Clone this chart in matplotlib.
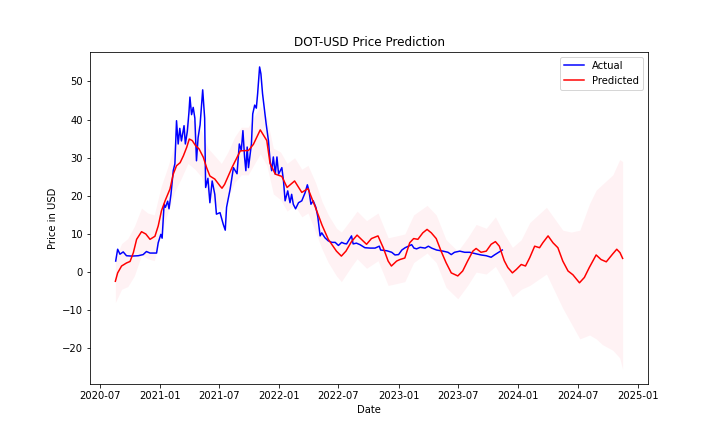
import matplotlib
matplotlib.use("Agg")
import matplotlib.pyplot as plt
import pandas as pd

# actual close price
actual_dates = [
    "2020-08-19", "2020-08-25", "2020-09-01", "2020-09-11", "2020-09-21", "2020-10-07",
    "2020-10-27", "2020-11-11", "2020-11-21", "2020-12-02", "2020-12-22", "2020-12-27",
    "2021-01-04", "2021-01-08", "2021-01-14", "2021-01-18", "2021-01-25", "2021-01-29",
    "2021-02-04", "2021-02-11", "2021-02-16", "2021-02-21", "2021-02-26", "2021-03-03",
    "2021-03-08", "2021-03-16", "2021-03-20", "2021-03-26", "2021-03-31", "2021-04-03",
    "2021-04-08", "2021-04-13", "2021-04-18", "2021-04-23", "2021-04-28", "2021-05-04",
    "2021-05-12", "2021-05-18", "2021-05-21", "2021-05-28", "2021-06-03", "2021-06-10",
    "2021-06-18", "2021-06-23", "2021-07-04", "2021-07-14", "2021-07-20", "2021-07-24",
    "2021-08-04", "2021-08-14", "2021-08-25", "2021-09-01", "2021-09-07", "2021-09-12",
    "2021-09-17", "2021-09-21", "2021-09-25", "2021-09-29", "2021-10-08", "2021-10-12",
    "2021-10-18", "2021-10-23", "2021-10-27", "2021-11-02", "2021-11-06", "2021-11-11",
    "2021-11-17", "2021-11-22", "2021-11-29", "2021-12-04", "2021-12-09", "2021-12-14",
    "2021-12-20", "2021-12-25", "2021-12-30", "2022-01-09", "2022-01-14", "2022-01-19",
    "2022-01-27", "2022-02-03", "2022-02-08", "2022-02-13", "2022-02-20", "2022-03-01",
    "2022-03-11", "2022-03-21", "2022-03-28", "2022-04-02", "2022-04-08", "2022-04-15",
    "2022-04-23", "2022-04-29", "2022-05-06", "2022-05-11", "2022-05-21", "2022-05-31",
    "2022-06-11", "2022-06-21", "2022-07-01", "2022-07-11", "2022-07-19", "2022-07-26",
    "2022-08-10", "2022-08-15", "2022-08-25", "2022-09-05", "2022-09-20", "2022-10-06",
    "2022-10-21", "2022-11-03", "2022-11-07", "2022-11-26", "2022-12-11", "2022-12-21",
    "2023-01-01", "2023-01-11", "2023-01-21", "2023-01-31", "2023-02-10", "2023-02-17",
    "2023-02-25", "2023-03-08", "2023-03-23", "2023-04-02", "2023-04-12", "2023-04-27",
    "2023-05-17", "2023-06-01", "2023-06-11", "2023-06-21", "2023-07-07", "2023-07-22",
    "2023-08-06", "2023-08-26", "2023-09-10", "2023-09-26", "2023-10-11", "2023-10-21",
    "2023-11-03", "2023-11-14",
]
actual_vals = [
    2.9, 6.0, 4.7, 5.3, 4.3, 4.2,
    4.3, 4.6, 5.4, 5.0, 5.0, 7.7,
    9.9, 8.9, 17.8, 17.0, 18.6, 16.6,
    20.4, 26.6, 28.4, 39.7, 33.6, 37.7,
    34.4, 38.4, 33.6, 36.9, 41.9, 45.9,
    41.3, 43.2, 40.4, 29.2, 35.3, 38.6,
    47.8, 40.4, 22.2, 24.6, 18.2, 23.9,
    20.4, 15.2, 15.6, 12.5, 11.0, 17.0,
    21.8, 27.4, 25.8, 33.6, 31.9, 37.1,
    30.2, 26.6, 32.8, 27.4, 33.6, 41.5,
    43.8, 43.0, 46.8, 53.8, 52.0, 46.8,
    42.5, 38.9, 34.5, 29.2, 26.6, 30.2,
    25.7, 30.2, 25.7, 27.4, 24.0, 18.7,
    21.3, 18.2, 20.4, 17.8, 16.6, 18.2,
    18.7, 20.8, 22.9, 21.3, 17.8, 18.7,
    17.0, 14.5, 9.5, 10.3, 9.0, 8.2,
    7.8, 7.8, 7.0, 7.8, 7.5, 7.4,
    9.5, 7.4, 7.6, 7.2, 6.4, 6.3,
    6.3, 6.8, 5.8, 5.6, 5.2, 4.5,
    4.6, 5.8, 6.4, 6.8, 7.2, 6.3,
    6.1, 6.5, 6.3, 6.8, 6.3, 5.8,
    5.5, 5.2, 4.6, 5.2, 5.5, 5.2,
    5.2, 4.8, 4.5, 4.3, 3.9, 4.5,
    5.2, 5.8,
]

# model fit / forecast
pred_dates = [
    "2020-08-18", "2020-08-25", "2020-09-06", "2020-09-21", "2020-10-02", "2020-10-12",
    "2020-10-22", "2020-11-06", "2020-11-19", "2020-12-02", "2020-12-17", "2020-12-27",
    "2021-01-06", "2021-01-17", "2021-02-01", "2021-02-11", "2021-02-21", "2021-03-04",
    "2021-03-14", "2021-03-24", "2021-04-01", "2021-04-10", "2021-04-20", "2021-05-01",
    "2021-05-14", "2021-05-24", "2021-06-03", "2021-06-18", "2021-07-04", "2021-07-10",
    "2021-07-18", "2021-08-10", "2021-09-04", "2021-09-29", "2021-10-14", "2021-11-04",
    "2021-11-24", "2021-12-04", "2021-12-20", "2022-01-09", "2022-01-25", "2022-02-17",
    "2022-03-11", "2022-03-30", "2022-04-22", "2022-05-12", "2022-05-31", "2022-06-25",
    "2022-07-10", "2022-07-24", "2022-08-10", "2022-08-27", "2022-09-14", "2022-09-25",
    "2022-10-10", "2022-10-30", "2022-11-15", "2022-11-30", "2022-12-10", "2022-12-26",
    "2023-01-05", "2023-01-20", "2023-02-04", "2023-02-16", "2023-03-01", "2023-03-16",
    "2023-03-29", "2023-04-11", "2023-04-26", "2023-05-11", "2023-05-26", "2023-06-11",
    "2023-07-01", "2023-07-16", "2023-07-31", "2023-08-16", "2023-08-26", "2023-09-10",
    "2023-09-26", "2023-10-11", "2023-10-24", "2023-11-05", "2023-11-20", "2023-12-01",
    "2023-12-15", "2023-12-27", "2024-01-11", "2024-01-24", "2024-02-06", "2024-02-21",
    "2024-03-07", "2024-03-17", "2024-04-02", "2024-04-17", "2024-05-02", "2024-05-17",
    "2024-06-02", "2024-06-17", "2024-07-07", "2024-07-22", "2024-08-06", "2024-08-27",
    "2024-09-11", "2024-09-27", "2024-10-17", "2024-10-29", "2024-11-08", "2024-11-16",
]
pred_vals = [
    -2.4, -0.2, 1.6, 2.4, 2.8, 5.1,
    8.6, 10.6, 10.0, 8.6, 9.4, 12.1,
    16.1, 18.7, 21.8, 25.7, 27.9, 28.7,
    30.5, 32.7, 34.9, 34.5, 33.2, 32.3,
    30.1, 27.4, 25.2, 24.4, 22.6, 22.0,
    23.0, 27.5, 31.8, 31.9, 33.5, 37.3,
    34.5, 28.5, 25.7, 25.1, 22.2, 23.9,
    20.9, 21.9, 16.9, 12.3, 8.6, 5.5,
    4.2, 5.5, 8.0, 9.7, 8.2, 7.3,
    8.8, 9.5, 6.4, 2.9, 1.6, 2.9,
    3.3, 3.7, 7.7, 8.8, 8.6, 10.3,
    11.2, 10.3, 8.8, 5.5, 2.5, -0.2,
    -1.0, 0.3, 2.9, 5.5, 6.2, 5.2,
    5.5, 7.3, 8.0, 6.8, 3.0, 1.2,
    -0.2, 0.7, 2.0, 1.6, 3.8, 6.8,
    6.4, 7.7, 9.5, 7.7, 6.4, 2.9,
    0.3, -0.7, -2.8, -1.4, 1.2, 4.5,
    3.3, 2.7, 4.8, 6.0, 5.1, 3.6,
]

# uncertainty interval
band_dates = [
    "2020-08-18", "2020-09-06", "2020-09-25", "2020-10-15", "2020-11-06", "2020-11-25",
    "2020-12-15", "2021-01-05", "2021-01-25", "2021-02-15", "2021-03-07", "2021-03-28",
    "2021-04-18", "2021-05-08", "2021-05-28", "2021-06-18", "2021-07-08", "2021-07-28",
    "2021-08-18", "2021-09-07", "2021-09-28", "2021-10-18", "2021-11-04", "2021-11-24",
    "2021-12-14", "2022-01-05", "2022-01-25", "2022-02-17", "2022-03-11", "2022-03-30",
    "2022-04-22", "2022-05-12", "2022-05-31", "2022-06-25", "2022-07-10", "2022-08-10",
    "2022-08-27", "2022-09-25", "2022-10-30", "2022-11-30", "2022-12-26", "2023-01-20",
    "2023-02-16", "2023-03-29", "2023-04-26", "2023-05-26", "2023-07-01", "2023-07-31",
    "2023-08-26", "2023-09-26", "2023-10-24", "2023-11-20", "2023-12-15", "2024-01-11",
    "2024-02-06", "2024-03-28", "2024-05-17", "2024-06-12", "2024-07-08", "2024-08-07",
    "2024-08-27", "2024-09-15", "2024-10-17", "2024-11-07", "2024-11-16",
]
band_lower = [
    -8.0, -4.5, -3.8, -1.0, 4.5, 3.5,
    3.0, 10.0, 15.5, 21.0, 24.5, 28.5,
    27.0, 25.0, 20.5, 18.0, 16.0, 19.5,
    23.5, 25.5, 25.5, 28.5, 31.0, 28.0,
    20.5, 19.0, 16.0, 17.5, 14.5, 15.5,
    10.5, 6.0, 2.5, -1.0, -2.5, 1.5,
    3.5, 1.0, 3.0, -3.5, -3.0, -2.5,
    2.5, 5.0, 2.5, -4.0, -7.0, -3.5,
    0.0, -0.5, 1.5, -2.5, -6.5, -4.5,
    -3.5, -0.5, -9.5, -13.5, -17.5, -16.5,
    -17.5, -19.0, -20.5, -22.5, -25.5,
]
band_upper = [
    3.5, 7.5, 8.8, 12.0, 16.8, 15.5,
    15.0, 22.5, 27.5, 33.5, 36.5, 40.5,
    39.5, 37.0, 32.5, 30.5, 28.5, 31.5,
    35.5, 38.0, 38.0, 41.0, 43.5, 40.5,
    32.5, 31.5, 28.5, 30.0, 27.0, 28.0,
    23.5, 18.5, 15.0, 11.5, 10.5, 14.0,
    16.0, 13.5, 15.5, 9.0, 9.5, 10.0,
    15.0, 17.5, 15.0, 8.5, 5.5, 9.0,
    12.5, 11.5, 14.5, 10.0, 6.5, 8.5,
    13.0, 17.0, 11.0, 10.5, 11.0, 18.0,
    21.5, 23.0, 25.5, 29.5, 29.0,
]

actual_x = pd.to_datetime(actual_dates)
pred_x = pd.to_datetime(pred_dates)
band_x = pd.to_datetime(band_dates)

fig, ax = plt.subplots(figsize=(10, 6), dpi=72)
ax.plot(actual_x, actual_vals, color="blue", label="Actual")
ax.plot(pred_x, pred_vals, color="red", label="Predicted")
ax.fill_between(band_x, band_lower, band_upper, color="pink", alpha=0.2, linewidth=0)

ax.set_title("DOT-USD Price Prediction")
ax.set_xlabel("Date")
ax.set_ylabel("Price in USD")
ax.legend(loc="upper right")

fig.savefig("out.png", dpi=72)
